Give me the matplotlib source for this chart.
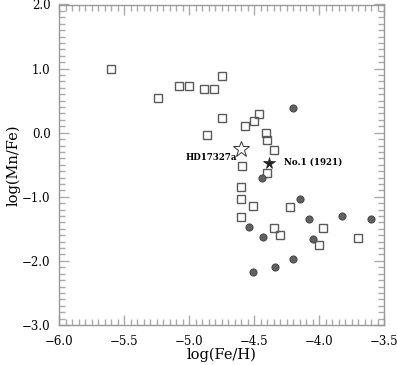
import numpy as np
import matplotlib.pyplot as plt
from matplotlib.ticker import MultipleLocator

plt.rcParams['font.family'] = 'DejaVu Serif'

# open squares
sq_fe = [-5.60, -4.75, -5.08, -5.00, -4.885, -4.805, -5.24, -4.75, -4.86,
         -4.46, -4.50, -4.57, -4.41, -4.40, -4.35, -4.59, -4.40, -4.60,
         -4.60, -4.51, -4.22, -4.60, -4.35, -3.97, -4.30, -4.00, -3.70]
sq_mn = [1.00, 0.89, 0.73, 0.73, 0.68, 0.68, 0.54, 0.23, -0.04,
         0.29, 0.18, 0.10, -0.01, -0.12, -0.27, -0.52, -0.63, -0.84,
         -1.04, -1.14, -1.16, -1.32, -1.49, -1.49, -1.60, -1.75, -1.64]

# filled circles
ci_fe = [-4.20, -4.44, -4.15, -4.08, -3.82, -3.60, -4.54, -4.43, -4.05,
         -4.20, -4.34, -4.51]
ci_mn = [0.38, -0.70, -1.03, -1.34, -1.30, -1.35, -1.47, -1.62, -1.66,
         -1.97, -2.10, -2.18]

# stars
hd_fe, hd_mn = -4.60, -0.25
no1_fe, no1_mn = -4.385, -0.47

fig = plt.figure(figsize=(3.97, 3.65), dpi=100)
ax = fig.add_axes([59/397, 1 - 325/365, 325/397, 320.5/365])

gray = '#5a5a5a'
ax.plot(sq_fe, sq_mn, 's', ms=6.3, mfc='none', mec=gray, mew=1.0)
ax.plot(ci_fe, ci_mn, 'o', ms=5.2, mfc='#606060', mec='#404040', mew=0.6)
ax.plot(hd_fe, hd_mn, '*', ms=12, mfc='white', mec='#333333', mew=0.7)
ax.plot(no1_fe, no1_mn, '*', ms=8.5, mfc='#222222', mec='#222222', mew=0.5)

ax.text(-4.63, -0.38, 'HD17327a', fontsize=6.2, fontweight='bold',
        ha='right', va='center')
ax.text(-4.27, -0.45, 'No.1 (1921)', fontsize=6.2, fontweight='bold',
        ha='left', va='center')

def fmt(v, p):
    return ('%.1f' % v).replace('-', '\u2212')

ax.set_xlim(-6.0, -3.5)
ax.set_ylim(-3.0, 2.0)
ax.xaxis.set_major_locator(MultipleLocator(0.5))
ax.xaxis.set_minor_locator(MultipleLocator(0.05))
ax.yaxis.set_major_locator(MultipleLocator(1.0))
ax.yaxis.set_minor_locator(MultipleLocator(0.1))
ax.xaxis.set_major_formatter(plt.FuncFormatter(fmt))
ax.yaxis.set_major_formatter(plt.FuncFormatter(fmt))

ax.tick_params(which='both', direction='in', top=True, right=True,
               color='#aaaaaa', labelsize=8.5)
ax.tick_params(axis='x', which='major', pad=7)
ax.tick_params(axis='y', which='major', pad=6)
ax.tick_params(which='major', length=7, width=1)
ax.tick_params(which='minor', length=4, width=1)
for s in ax.spines.values():
    s.set_color('#999999')
    s.set_linewidth(1)

ax.set_xlabel('log(Fe/H)', fontsize=10.5, labelpad=0)
ax.set_ylabel('log(Mn/Fe)', fontsize=10.5, labelpad=1)

fig.savefig('out.png', dpi=100)
